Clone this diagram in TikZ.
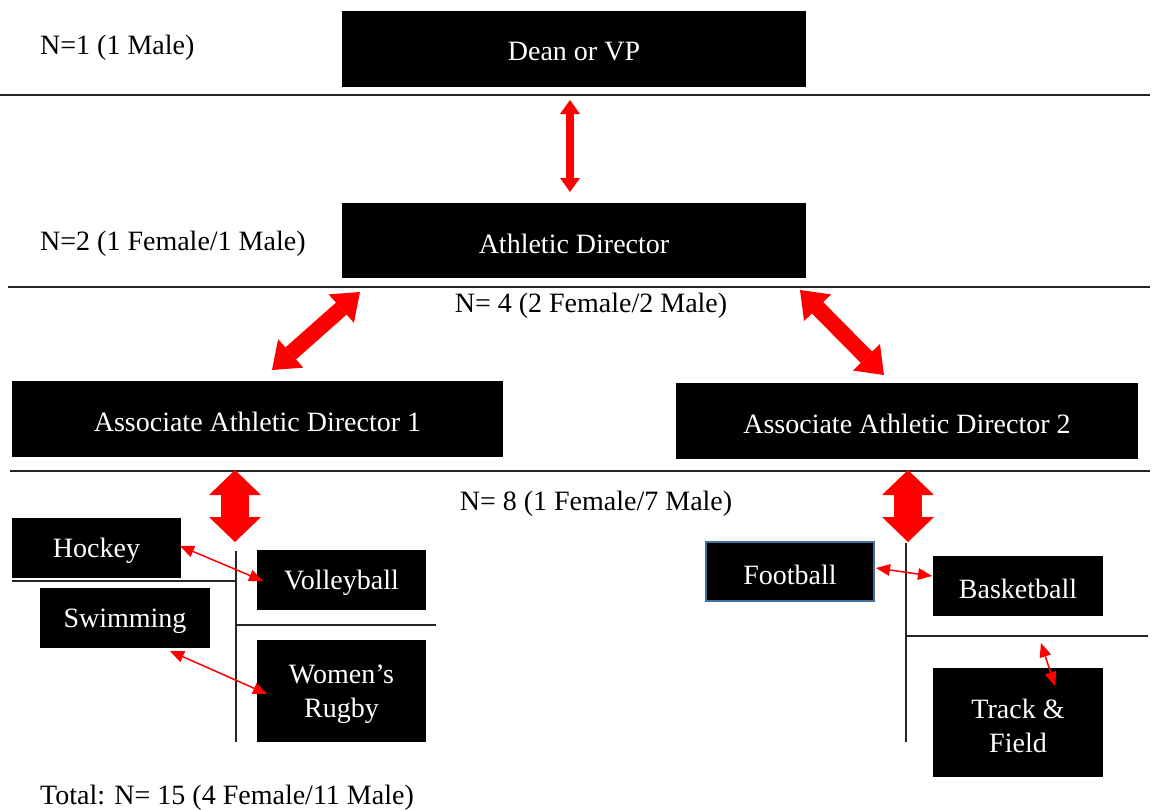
\documentclass[tikz,border=0pt]{standalone}
\usepackage{fontspec}
\setmainfont{Liberation Serif}
\usetikzlibrary{arrows.meta}
\tikzset{
  box/.style={fill=black, inner sep=0pt, outer sep=0pt},
  boxtext/.style={text=white, inner sep=0pt, align=center, yshift=-3pt,
    font=\fontsize{28}{34}\selectfont},
  lbl/.style={inner sep=0pt, font=\fontsize{28}{34}\selectfont},
  rule/.style={draw=black!85, line width=1.4pt},
  thin arrow/.style={draw=red, line width=1.5pt,
    {Triangle[length=14pt,width=12pt,line width=0pt]}-{Triangle[length=14pt,width=12pt,line width=0pt]}},
  mid arrow/.style={draw=red, line width=8pt,
    {Triangle[length=14pt,width=20pt,line width=0pt]}-{Triangle[length=14pt,width=20pt,line width=0pt]}},
  diag arrow/.style={draw=red, line width=16pt,
    {Triangle[length=25pt,width=38pt,line width=0pt]}-{Triangle[length=25pt,width=38pt,line width=0pt]}},
  block arrow/.style={draw=red, line width=28pt,
    {Triangle[length=25pt,width=52pt,line width=0pt]}-{Triangle[length=25pt,width=52pt,line width=0pt]}},
}
\begin{document}
\begin{tikzpicture}[x=1pt,y=-1pt]
\useasboundingbox[fill=white] (0,0) rectangle (1156,809);

% rules
\draw[rule] (0,95) -- (1150,95);
\draw[rule] (8,287) -- (1150,287);
\draw[rule] (10,471) -- (1150,471);
\draw[rule] (12,581) -- (236,581);
\draw[rule] (236,551) -- (236,742);
\draw[rule] (236,625) -- (436,625);
\draw[rule] (906,543) -- (906,742);
\draw[rule] (906,636) -- (1148,636);

% boxes
\node[box, minimum width=464pt, minimum height=76pt] (dean) at (574,49) {};
\node[box, minimum width=464pt, minimum height=75pt] (ad) at (574,240.5) {};
\node[box, minimum width=491pt, minimum height=76pt] (aad1) at (257.5,419) {};
\node[box, minimum width=462pt, minimum height=76pt] (aad2) at (907,421) {};
\node[box, minimum width=169pt, minimum height=60pt] (hockey) at (96.5,548) {};
\node[box, minimum width=169pt, minimum height=60pt] (volley) at (341.5,580) {};
\node[box, minimum width=170pt, minimum height=60pt] (swim) at (125,618) {};
\node[box, minimum width=169pt, minimum height=102pt] (rugby) at (341.5,691) {};
\node[box, draw={rgb,255:red,65;green,113;blue,156}, line width=1.5pt, minimum width=168pt, minimum height=59pt] (football) at (790,571.5) {};
\node[box, minimum width=170pt, minimum height=60pt] (basket) at (1018,586) {};
\node[box, minimum width=170pt, minimum height=109pt] (track) at (1018,722.5) {};

% box texts
\node[boxtext] (dean-t) at (dean.center) {Dean or VP};
\node[boxtext] (ad-t) at (ad.center) {Athletic Director};
\node[boxtext] (aad1-t) at (aad1.center) {Associate Athletic Director 1};
\node[boxtext] (aad2-t) at (aad2.center) {Associate Athletic Director 2};
\node[boxtext] (hockey-t) at (hockey.center) {Hockey};
\node[boxtext] (volley-t) at (volley.center) {Volleyball};
\node[boxtext] (swim-t) at (swim.center) {Swimming};
\node[boxtext] (rugby-t) at (rugby.center) {Women’s\\Rugby};
\node[boxtext] (football-t) at (football.center) {Football};
\node[boxtext] (basket-t) at (basket.center) {Basketball};
\node[boxtext] (track-t) at (track.center) {Track \&\\Field};

% labels
\node[lbl, anchor=west] (n1) at (40,48) {N=1 (1 Male)};
\node[lbl, anchor=west] (n2) at (40,244) {N=2 (1 Female/1 Male)};
\node[lbl] (n4) at (591,306) {N= 4 (2 Female/2 Male)};
\node[lbl] (n8) at (596,504) {N= 8 (1 Female/7 Male)};
\node[lbl, anchor=west] (total) at (40,798) {Total: N= 15 (4 Female/11 Male)};

% arrow end coordinates
\coordinate (a1) at (570,100);
\coordinate (a2) at (570,192);
\coordinate (b1) at (360,292);
\coordinate (b2) at (272,370);
\coordinate (c1) at (800,290);
\coordinate (c2) at (884,375);
\coordinate (d1) at (235,470);
\coordinate (d2) at (235,542);
\coordinate (e1) at (908,470);
\coordinate (e2) at (908,542);
\coordinate (f1) at (180,546);
\coordinate (f2) at (263,581);
\coordinate (g1) at (170,651);
\coordinate (g2) at (267,694);
\coordinate (h1) at (876,568);
\coordinate (h2) at (932,576);
\coordinate (k1) at (1041,643);
\coordinate (k2) at (1055,686);

% arrows
\draw[mid arrow] (a1) -- (a2);
\draw[diag arrow] (b1) -- (b2);
\draw[diag arrow] (c1) -- (c2);
\draw[block arrow] (d1) -- (d2);
\draw[block arrow] (e1) -- (e2);
\draw[thin arrow] (f1) -- (f2);
\draw[thin arrow] (g1) -- (g2);
\draw[thin arrow] (h1) -- (h2);
\draw[thin arrow] (k1) -- (k2);
\end{tikzpicture}
\end{document}
